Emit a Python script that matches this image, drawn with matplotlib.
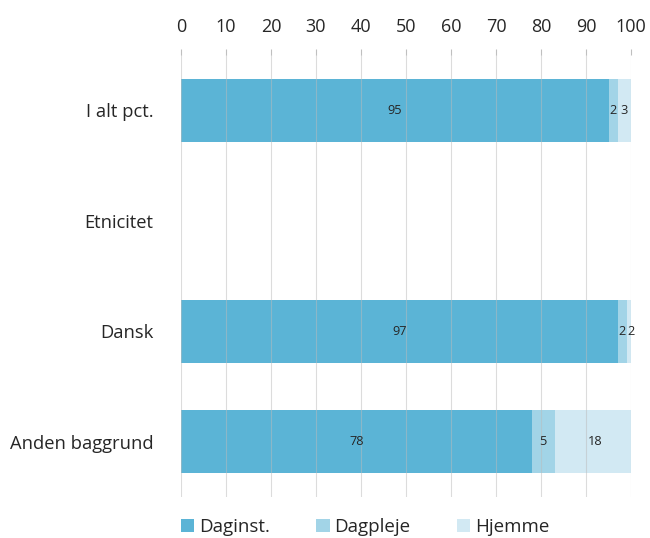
import matplotlib.pyplot as plt
import numpy as np

plt.rcParams['font.family'] = ['Open Sans', 'DejaVu Sans']

categories = ["I alt pct.", "Etnicitet", "Dansk", "Anden baggrund"]
series_names = ["Daginst.", "Dagpleje", "Hjemme"]
daginst = [95, None, 97, 78]
dagpleje = [2, None, 2, 5]
hjemme = [3, None, 2, 18]
colors = ["#5BB4D6", "#A2D4E7", "#D2E9F3"]
xticks = [0, 10, 20, 30, 40, 50, 60, 70, 80, 90, 100]

fig = plt.figure(figsize=(6.5, 5.38), dpi=100)
ax = fig.add_axes([181 / 650, 1 - 497 / 538, 450 / 650, 442 / 538])

y = np.arange(len(categories))
left = np.zeros(len(categories))
for name, vals, col in zip(series_names, [daginst, dagpleje, hjemme], colors):
    v = np.array([0 if x is None else x for x in vals], dtype=float)
    ax.barh(y, v, left=left, height=0.57, color=col, label=name, zorder=2)
    for i, val in enumerate(vals):
        if val is not None:
            ax.text(left[i] + val / 2, y[i], str(val), ha='center', va='center',
                    fontsize=9.2, color='#262626', zorder=4)
    left += v

ax.set_xlim(0, 100)
ax.set_ylim(len(categories) - 0.5, -0.5)
ax.set_yticks(y)
ax.set_yticklabels(categories, fontsize=13.2, color='#262626')
ax.set_xticks(xticks)
ax.set_xticklabels([str(t) for t in xticks], fontsize=13, color='#262626')
ax.xaxis.tick_top()
ax.tick_params(axis='x', length=4, color='#BFBFBF', pad=10)
ax.tick_params(axis='y', length=0, pad=20)
for s in ax.spines.values():
    s.set_visible(False)
ax.grid(axis='x', color='#BBBBBB', linewidth=0.8, alpha=0.5, zorder=3)
ax.set_axisbelow(False)

handles, labels = ax.get_legend_handles_labels()
fig.legend(handles, labels, loc='center left', bbox_to_anchor=(164 / 650, 1 - 527 / 538), ncol=3,
           frameon=False, fontsize=13.5, handlelength=0.7, handleheight=0.7,
           columnspacing=2.5, handletextpad=0.25, labelcolor='#262626')

fig.savefig("out.png", dpi=100)
